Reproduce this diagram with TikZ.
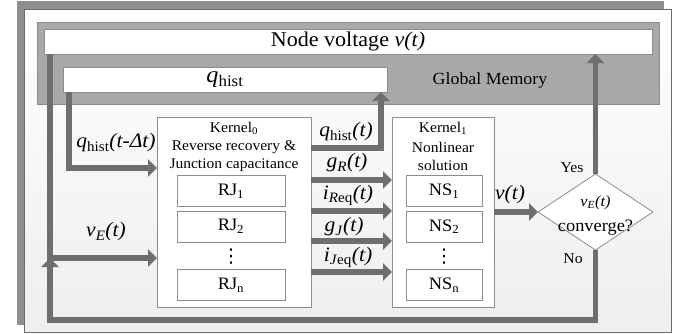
\documentclass[tikz,border=0pt]{standalone}
\usepackage{fontspec}
\setmainfont{Liberation Serif}
\newfontfamily\dvs{DejaVu Sans}
\usepackage{graphicx}
\usetikzlibrary{arrows.meta,shapes.geometric}
\definecolor{shadowgray}{HTML}{8E8E8E}
\definecolor{memgray}{HTML}{A9A9A9}
\definecolor{memline}{HTML}{8A8A8A}
\definecolor{arrowgray}{HTML}{6E6E6E}
\definecolor{boxgray}{HTML}{8C8C8C}
\definecolor{panelline}{HTML}{6A6A6A}
\definecolor{panelbot}{HTML}{EEEEEE}
\newcommand{\hs}[1]{\scalebox{1.05}[1]{#1}}
\newcommand{\fs}[1]{\fontsize{#1}{#1}\selectfont}
\begin{document}
\begin{tikzpicture}[x=1pt,y=-1pt,
  flow/.style={draw=arrowgray, line width=5.5pt, -{Triangle[width=17pt,length=9pt]}},
  box/.style={draw=boxgray, line width=0.8pt, fill=white, inner sep=0pt, outer sep=0pt},
  lbl/.style={inner sep=0pt, outer sep=0pt, text=black}]
\useasboundingbox (0,0) rectangle (690,333);
% background layers
\fill[shadowgray] (17,1) rectangle (664,325);
\shade[top color=white, bottom color=panelbot, draw=panelline, line width=1pt] (24,9) rectangle (671,332);
\draw[draw=memline, fill=memgray, line width=0.8pt] (37,22) rectangle (659,104);
% memory boxes
\node[box, minimum width=608pt, minimum height=25pt] (nv) at (348,41.5)
  {\hs{\fs{21}Node voltage \textit{v(t)}}};
\node[box, minimum width=324pt, minimum height=25pt] (qh) at (225,79.5)
  {\hs{\fs{23}\textit{q}\textsubscript{hist}}};
\node[lbl] (gm) at (490,80) {\hs{\fs{17}Global Memory}};
% kernel 0
\node[box, minimum width=154pt, minimum height=190pt] (k0) at (234,212) {};
\node[lbl] (k0a) at (234,128) {\hs{\fs{14.8}Kernel\textsubscript{0}}};
\node[lbl] (k0b) at (234,147) {\hs{\fs{14.8}Reverse recovery \&}};
\node[lbl] (k0c) at (234,165) {\hs{\fs{14.8}Junction capacitance}};
\node[box, minimum width=108pt, minimum height=31pt] (rj1) at (231,191) {\hs{\fs{17.5}RJ\textsubscript{1}}};
\node[box, minimum width=108pt, minimum height=31pt] (rj2) at (231,226.5) {\hs{\fs{17.5}RJ\textsubscript{2}}};
\node[lbl] (rjd) at (231,257) {\fs{19}\dvs ⋮};
\node[box, minimum width=108pt, minimum height=31pt] (rjn) at (231,285) {\hs{\fs{17.5}RJ\textsubscript{n}}};
% kernel 1
\node[box, minimum width=102pt, minimum height=190pt] (k1) at (443,212) {};
\node[lbl] (k1a) at (443,128) {\hs{\fs{14.8}Kernel\textsubscript{1}}};
\node[lbl] (k1b) at (443,147) {\hs{\fs{14.8}Nonlinear}};
\node[lbl] (k1c) at (443,165) {\hs{\fs{14.8}solution}};
\node[box, minimum width=76pt, minimum height=31pt] (ns1) at (444,191) {\hs{\fs{17.5}NS\textsubscript{1}}};
\node[box, minimum width=76pt, minimum height=31pt] (ns2) at (444,226.5) {\hs{\fs{17.5}NS\textsubscript{2}}};
\node[lbl] (nsd) at (444,257) {\fs{19}\dvs ⋮};
\node[box, minimum width=76pt, minimum height=31pt] (nsn) at (444,285) {\hs{\fs{17.5}NS\textsubscript{n}}};
% decision
\node[box, shape=diamond, minimum width=115pt, minimum height=76pt] (dia) at (595.5,212) {};
\node[lbl] (dt1) at (595.5,203) {\hs{\fs{15.5}\textit{v}\textsubscript{\textit{E}}\textit{(t)}}};
\node[lbl] (dt2) at (595.5,228) {\hs{\fs{17.5}converge?}};
% helper coordinates
\coordinate (xL) at (50,0);
\coordinate (xQ) at (69,0);
\coordinate (xU) at (381,0);
\coordinate (yVE) at (0,258);
\coordinate (yQH) at (0,168);
\coordinate (yQT) at (0,148);
\coordinate (yB) at (0,320);
\coordinate (y1) at (0,180);
\coordinate (y2) at (0,211);
\coordinate (y3) at (0,241);
\coordinate (y4) at (0,272);
% connectors
\draw[flow] (nv.south -| xL) |- (k0.west |- yVE);
\draw[flow] (dia.south) -- (dia.south |- yB) -| (xL |- yVE);
\draw[flow] (qh.south -| xQ) |- (k0.west |- yQH);
\draw[flow] (k0.east |- yQT) -| (qh.south -| xU);
\draw[flow] (k0.east |- y1) -- (k1.west |- y1);
\draw[flow] (k0.east |- y2) -- (k1.west |- y2);
\draw[flow] (k0.east |- y3) -- (k1.west |- y3);
\draw[flow] (k0.east |- y4) -- (k1.west |- y4);
\draw[flow] (k1.east |- dia.west) -- (dia.west);
\draw[flow] (dia.north) -- (nv.south -| dia.north);
% labels
\node[lbl] (lq1) at (116,143) {\hs{\fs{20.5}\textit{q}\textsubscript{hist}\textit{(t-Δt)}}};
\node[lbl] (lve) at (106,232) {\hs{\fs{20.5}\textit{v}\textsubscript{\textit{E}}\textit{(t)}}};
\node[lbl] (lq2) at (346,132) {\hs{\fs{20.5}\textit{q}\textsubscript{hist}\textit{(t)}}};
\node[lbl] (lgr) at (347,163) {\hs{\fs{20.5}\textit{g}\textsubscript{\textit{R}}\textit{(t)}}};
\node[lbl] (lir) at (348,195) {\hs{\fs{20.5}\textit{i}\textsubscript{\textit{R}eq}\textit{(t)}}};
\node[lbl] (lgj) at (344,227) {\hs{\fs{20.5}\textit{g}\textsubscript{\textit{J}}\textit{(t)}}};
\node[lbl] (lij) at (348,257) {\hs{\fs{20.5}\textit{i}\textsubscript{\textit{J}eq}\textit{(t)}}};
\node[lbl] (lv) at (510,195) {\hs{\fs{20.5}\textit{v(t)}}};
\node[lbl] (lyes) at (572,168) {\hs{\fs{15}Yes}};
\node[lbl] (lno) at (573,259) {\hs{\fs{15}No}};
\end{tikzpicture}
\end{document}
